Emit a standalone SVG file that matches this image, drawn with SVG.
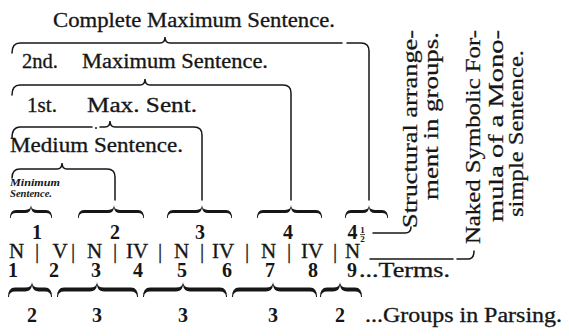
<svg xmlns="http://www.w3.org/2000/svg" width="569" height="336" viewBox="0 0 569 336">
  <style>
    .lbl { font-family: "Liberation Serif", "Times New Roman", serif; font-size: 20px; fill: #161616; stroke: #161616; stroke-width: 0.3; }
    .side { font-family: "Liberation Serif", "Times New Roman", serif; font-size: 20px; fill: #161616; stroke: #161616; stroke-width: 0.25; }
    .num { font-family: "Liberation Serif", "Times New Roman", serif; font-size: 20px; font-weight: bold; fill: #161616; text-anchor: middle; }
    .sym { font-family: "Liberation Serif", "Times New Roman", serif; font-size: 21px; fill: #161616; stroke: #161616; stroke-width: 0.3; text-anchor: middle; }
    .tiny { font-family: "Liberation Serif", "Times New Roman", serif; font-size: 10px; font-weight: bold; font-style: italic; fill: #161616; }
    .frac { font-family: "Liberation Serif", "Times New Roman", serif; font-size: 9px; font-weight: bold; fill: #161616; text-anchor: middle; }
    .brk { fill: none; stroke: #161616; stroke-width: 1.5; stroke-linecap: round; }
    .brace { fill: #161616; }
  </style>
  <rect width="569" height="336" fill="#ffffff"/>

  <!-- sentence labels -->
  <g id="complete-max">
    <text class="lbl" x="53" y="27" textLength="282" lengthAdjust="spacingAndGlyphs">Complete Maximum Sentence.</text>
  </g>
  <g id="second-max">
    <text class="lbl" x="22" y="68" textLength="36" lengthAdjust="spacingAndGlyphs">2nd.</text>
    <text class="lbl" x="82" y="68" textLength="186" lengthAdjust="spacingAndGlyphs">Maximum Sentence.</text>
  </g>
  <g id="first-max">
    <text class="lbl" x="27" y="112" textLength="30" lengthAdjust="spacingAndGlyphs">1st.</text>
    <text class="lbl" x="87" y="112" textLength="110" lengthAdjust="spacingAndGlyphs">Max. Sent.</text>
  </g>
  <g id="medium">
    <text class="lbl" x="10" y="152" textLength="173" lengthAdjust="spacingAndGlyphs">Medium Sentence.</text>
  </g>
  <g id="minimum">
    <text class="tiny" x="10" y="186" textLength="50" lengthAdjust="spacingAndGlyphs">Minimum</text>
    <text class="tiny" x="10" y="197" textLength="42" lengthAdjust="spacingAndGlyphs">Sentence.</text>
  </g>

  <!-- structural groups: braces and numbers -->
  <g id="struct-groups">
    <path class="brace" d="M10,218 Q10,209.9 16,209.9 L25,209.9 Q31,209.9 31,205 Q31,209.9 37,209.9 L46,209.9 Q52,209.9 52,218 L51.2,218 Q51.2,213.1 46,213.1 L37,213.1 Q31.6,213.1 31,207.5 Q30.4,213.1 25,213.1 L16,213.1 Q10.8,213.1 10.8,218 Z"/>
    <path class="brace" d="M78,218 Q78,209.9 84,209.9 L108,209.9 Q114,209.9 114,205 Q114,209.9 120,209.9 L138,209.9 Q144,209.9 144,218 L143.2,218 Q143.2,213.1 138,213.1 L120,213.1 Q114.6,213.1 114,207.5 Q113.4,213.1 108,213.1 L84,213.1 Q78.8,213.1 78.8,218 Z"/>
    <path class="brace" d="M167,218 Q167,209.9 173,209.9 L196,209.9 Q202,209.9 202,205 Q202,209.9 208,209.9 L226,209.9 Q232,209.9 232,218 L231.2,218 Q231.2,213.1 226,213.1 L208,213.1 Q202.6,213.1 202,207.5 Q201.4,213.1 196,213.1 L173,213.1 Q167.8,213.1 167.8,218 Z"/>
    <path class="brace" d="M257,218 Q257,209.9 263,209.9 L285,209.9 Q291,209.9 291,205 Q291,209.9 297,209.9 L316,209.9 Q322,209.9 322,218 L321.2,218 Q321.2,213.1 316,213.1 L297,213.1 Q291.6,213.1 291,207.5 Q290.4,213.1 285,213.1 L263,213.1 Q257.8,213.1 257.8,218 Z"/>
    <path class="brace" d="M345,218 Q345,209.9 351,209.9 L363,209.9 Q369,209.9 369,205 Q369,209.9 375,209.9 L382,209.9 Q388,209.9 388,218 L387.2,218 Q387.2,213.1 382,213.1 L375,213.1 Q369.6,213.1 369,207.5 Q368.4,213.1 363,213.1 L351,213.1 Q345.8,213.1 345.8,218 Z"/>
    <text class="num" x="37" y="239">1</text>
    <text class="num" x="115" y="239">2</text>
    <text class="num" x="200" y="239">3</text>
    <text class="num" x="288" y="239">4</text>
    <text class="num" x="352.5" y="239">4</text>
    <text class="frac" x="362.5" y="233">1</text>
    <line x1="360" y1="234.6" x2="365" y2="234.6" stroke="#161616" stroke-width="0.8"/>
    <text class="frac" x="362.5" y="242">2</text>
  </g>

  <!-- symbolic formula -->
  <g id="formula">
    <text class="sym" x="16.5" y="258">N</text>
    <text class="sym" x="37" y="258">|</text>
    <text class="sym" x="60" y="258">V</text>
    <text class="sym" x="73" y="258">|</text>
    <text class="sym" x="94.5" y="258">N</text>
    <text class="sym" x="115" y="258">|</text>
    <text class="sym" x="137" y="258">IV</text>
    <text class="sym" x="160" y="258">|</text>
    <text class="sym" x="181.5" y="258">N</text>
    <text class="sym" x="202" y="258">|</text>
    <text class="sym" x="223" y="258">IV</text>
    <text class="sym" x="247" y="258">|</text>
    <text class="sym" x="268.5" y="258">N</text>
    <text class="sym" x="289" y="258">|</text>
    <text class="sym" x="312" y="258">IV</text>
    <text class="sym" x="335" y="258">|</text>
    <text class="sym" x="352.5" y="258">N</text>
  </g>

  <!-- term numbers -->
  <g id="terms">
    <text class="num" x="13" y="277">1</text>
    <text class="num" x="54" y="277">2</text>
    <text class="num" x="96" y="277">3</text>
    <text class="num" x="138" y="277">4</text>
    <text class="num" x="182" y="277">5</text>
    <text class="num" x="227" y="277">6</text>
    <text class="num" x="270" y="277">7</text>
    <text class="num" x="313" y="277">8</text>
    <text class="num" x="352" y="277">9</text>
    <text class="lbl" x="359" y="277" textLength="91" lengthAdjust="spacingAndGlyphs">...Terms.</text>
  </g>

  <!-- parsing groups -->
  <g id="parsing-groups">
    <path class="brace" d="M8,297 Q8,287.5 15,287.5 L25,287.5 Q32,287.5 32,282 Q32,287.5 39,287.5 L45,287.5 Q52,287.5 52,297 L51,297 Q51,291.5 45,291.5 L39,291.5 Q32.7,291.5 32,285 Q31.3,291.5 25,291.5 L15,291.5 Q9,291.5 9,297 Z"/>
    <path class="brace" d="M57,297 Q57,287.5 64,287.5 L90,287.5 Q97,287.5 97,282 Q97,287.5 104,287.5 L131,287.5 Q138,287.5 138,297 L137,297 Q137,291.5 131,291.5 L104,291.5 Q97.7,291.5 97,285 Q96.3,291.5 90,291.5 L64,291.5 Q58,291.5 58,297 Z"/>
    <path class="brace" d="M143,297 Q143,287.5 150,287.5 L176,287.5 Q183,287.5 183,282 Q183,287.5 190,287.5 L220,287.5 Q227,287.5 227,297 L226,297 Q226,291.5 220,291.5 L190,291.5 Q183.7,291.5 183,285 Q182.3,291.5 176,291.5 L150,291.5 Q144,291.5 144,297 Z"/>
    <path class="brace" d="M232,297 Q232,287.5 239,287.5 L266,287.5 Q273,287.5 273,282 Q273,287.5 280,287.5 L310,287.5 Q317,287.5 317,297 L316,297 Q316,291.5 310,291.5 L280,291.5 Q273.7,291.5 273,285 Q272.3,291.5 266,291.5 L239,291.5 Q233,291.5 233,297 Z"/>
    <path class="brace" d="M320,297 Q320,287.5 327,287.5 L333,287.5 Q340,287.5 340,282 Q340,287.5 347,287.5 L355,287.5 Q362,287.5 362,297 L361,297 Q361,291.5 355,291.5 L347,291.5 Q340.7,291.5 340,285 Q339.3,291.5 333,291.5 L327,291.5 Q321,291.5 321,297 Z"/>
    <text class="num" x="32" y="322">2</text>
    <text class="num" x="97" y="322">3</text>
    <text class="num" x="183" y="322">3</text>
    <text class="num" x="273" y="322">3</text>
    <text class="num" x="340" y="322">2</text>
    <text class="lbl" x="365" y="322" textLength="197" lengthAdjust="spacingAndGlyphs">...Groups in Parsing.</text>
  </g>

  <!-- side notes, set vertically -->
  <g id="note-structural">
    <text class="side" transform="translate(417,228) rotate(-90)" textLength="198" lengthAdjust="spacingAndGlyphs">Structural arrange-</text>
    <text class="side" transform="translate(438,200) rotate(-90)" textLength="168" lengthAdjust="spacingAndGlyphs">ment in groups.</text>
  </g>
  <g id="note-naked">
    <text class="side" transform="translate(480,244) rotate(-90)" textLength="214" lengthAdjust="spacingAndGlyphs">Naked Symbolic For-</text>
    <text class="side" transform="translate(503,222) rotate(-90)" textLength="192" lengthAdjust="spacingAndGlyphs">mula of a Mono-</text>
    <text class="side" transform="translate(523,217) rotate(-90)" textLength="167" lengthAdjust="spacingAndGlyphs">simple Sentence.</text>
  </g>

  <!-- brackets and leader lines -->
  <g id="connectors">
    <path class="brk" d="M12,53 Q12,43 20,43 L160,43 Q165,43 165,37 Q165,43 170,43 L342,43 M347,43 L361,43 Q369,43 369,51 L369,200"/>
    <path class="brk" d="M12,95 Q12,85 20,85 L140,85 Q145,85 145,79 Q145,85 150,85 L283,85 Q291,85 291,93 L291,200"/>
    <path class="brk" d="M12,138 Q12,127 20,127 L92,127 M100,127 L105,127 Q110,127 110,121 Q110,127 115,127 L194,127 Q202,127 202,135 L202,200"/>
    <circle cx="96" cy="128" r="1" fill="#161616"/>
    <path class="brk" d="M12,178 Q12,169 20,169 L57,169 Q62,169 62,163 Q62,169 67,169 L107,169 Q115,169 115,177 L115,200"/>
    <path class="brk" d="M373,233 L405,233 Q411,233 411,227"/>
    <path class="brk" d="M370,259 L453,259 M457,259 L468,259 Q474,259 474,251"/>
  </g>
</svg>
